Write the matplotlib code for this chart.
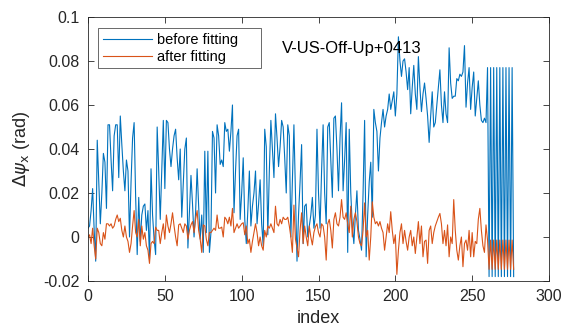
import numpy as np
import matplotlib
matplotlib.use("Agg")
import matplotlib.pyplot as plt

plt.rcParams['font.family'] = ['Liberation Sans', 'DejaVu Sans']
plt.rcParams['mathtext.fontset'] = 'dejavusans'

# Attitude residual Delta psi_x (rad) per sample index, before and after the fit
before = [
    0.004, 0.005, 0.012, 0.022, 0.003, -0.011, 0.044, 0.025, 0.006, 0.020,
    0.038, 0.034, 0.013, 0.051, 0.051, 0.035, 0.021, 0.046, 0.051, 0.051,
    0.027, 0.055, 0.042, 0.030, 0.021, 0.035, 0.030, 0.000, 0.025, 0.045,
    0.052, 0.018, -0.008, 0.018, -0.002, 0.010, 0.014, 0.015, 0.003, 0.012,
    -0.010, 0.031, 0.010, -0.001, -0.008, 0.050, 0.030, 0.008, 0.031, 0.053,
    0.022, 0.053, 0.052, 0.040, 0.032, 0.040, 0.046, 0.049, 0.036, 0.026,
    0.040, 0.009, 0.025, 0.040, 0.045, -0.005, 0.012, 0.028, 0.015, 0.000,
    0.011, 0.031, 0.014, -0.001, 0.010, -0.007, 0.039, 0.002, 0.039, -0.007,
    0.002, 0.048, 0.045, 0.020, 0.051, 0.046, 0.033, 0.035, 0.032, 0.052,
    0.048, 0.049, 0.039, 0.048, 0.060, 0.011, 0.030, 0.046, 0.049, 0.008,
    0.020, 0.036, 0.008, -0.003, 0.012, 0.030, 0.005, 0.014, 0.020, 0.030,
    0.006, 0.015, 0.026, 0.006, -0.004, 0.049, 0.041, 0.001, 0.030, 0.053,
    0.040, 0.027, 0.056, 0.045, 0.032, 0.041, 0.053, 0.050, 0.036, 0.020,
    0.051, 0.046, 0.000, 0.025, 0.051, 0.020, -0.011, 0.010, 0.025, 0.042,
    -0.003, 0.014, 0.015, 0.000, 0.005, 0.010, 0.018, 0.004, 0.010, 0.049,
    0.020, 0.004, 0.030, 0.051, 0.020, 0.006, 0.050, 0.052, 0.035, 0.018,
    0.054, 0.055, 0.040, 0.021, 0.045, 0.061, 0.021, 0.035, 0.052, -0.007,
    0.049, 0.020, 0.005, -0.003, 0.010, 0.021, 0.003, -0.001, -0.006, 0.020,
    0.053, -0.009, 0.010, 0.025, 0.034, 0.009, 0.058, 0.052, 0.048, 0.030,
    0.045, 0.052, 0.058, 0.050, 0.055, 0.058, 0.065, 0.058, 0.062, 0.066,
    0.055, 0.065, 0.091, 0.080, 0.073, 0.080, 0.081, 0.075, 0.067, 0.077,
    0.056, 0.068, 0.078, 0.065, 0.058, 0.082, 0.068, 0.057, 0.065, 0.070,
    0.063, 0.055, 0.043, 0.055, 0.066, 0.050, 0.052, 0.060, 0.068, 0.076,
    0.060, 0.052, 0.066, 0.056, 0.052, 0.086, 0.070, 0.063, 0.064, 0.064,
    0.072, 0.071, 0.074, 0.073, 0.075, 0.087, 0.059, 0.070, 0.077, 0.058,
    0.068, 0.075, 0.055, 0.063, 0.071, 0.060, 0.053, 0.052, 0.054, 0.052,
    0.077, -0.018, 0.077, -0.018, 0.077, -0.018, 0.077, -0.018, 0.077, -0.018,
    0.077, -0.018, 0.077, -0.018, 0.077, -0.018, 0.077, -0.018,
]

after = [
    0.000, 0.001, -0.003, 0.004, -0.004, -0.010, 0.004, 0.002, -0.003, -0.004,
    0.002, -0.001, 0.006, 0.006, 0.005, 0.006, 0.004, 0.005, 0.008, 0.010,
    0.007, 0.0085, 0.003, 0.000, 0.005, 0.000, -0.002, -0.007, -0.003, 0.005,
    0.012, 0.002, 0.000, 0.008, -0.004, 0.005, -0.001, 0.002, -0.004, -0.006,
    -0.012, -0.003, -0.002, -0.003, 0.0045, 0.003, 0.003, -0.003, 0.002, 0.006,
    -0.001, 0.010, 0.005, 0.002, 0.006, 0.011, 0.005, 0.000, -0.004, 0.0055,
    0.006, 0.004, 0.002, 0.006, 0.005, -0.001, 0.003, 0.0055, 0.007, 0.002,
    0.008, 0.012, 0.003, -0.001, -0.007, 0.0055, 0.005, -0.001, -0.004, 0.002,
    0.002, 0.003, 0.004, 0.003, 0.010, 0.004, 0.004, 0.0045, 0.000, 0.009,
    0.008, 0.006, 0.009, 0.005, 0.013, 0.002, 0.004, 0.006, 0.004, 0.005,
    0.006, 0.0065, 0.001, 0.005, -0.003, -0.001, -0.007, -0.002, 0.002, 0.006,
    0.002, -0.004, 0.000, -0.004, -0.006, 0.003, 0.000, 0.005, 0.004, 0.006,
    0.004, 0.002, 0.014, 0.006, 0.005, 0.008, 0.006, 0.009, 0.008, 0.008,
    0.009, 0.005, 0.000, -0.007, 0.0145, -0.001, -0.005, -0.009, 0.003, 0.011,
    -0.003, 0.005, 0.000, -0.004, 0.005, 0.000, -0.0036, 0.002, 0.0047, 0.006,
    0.002, 0.000, 0.006, 0.005, 0.000, -0.0105, 0.006, 0.008, 0.003, -0.005,
    0.008, 0.011, 0.006, 0.005, 0.009, 0.017, 0.009, 0.008, 0.011, 0.006,
    0.002, 0.014, 0.000, 0.008, 0.011, 0.007, 0.000, -0.003, -0.004, 0.003,
    0.0155, 0.000, 0.003, -0.0105, 0.000, 0.016, 0.009, 0.006, 0.007, 0.005,
    0.007, 0.004, 0.002, -0.006, 0.000, 0.006, 0.002, 0.0115, 0.003, -0.003,
    0.001, -0.017, -0.006, 0.002, 0.006, -0.003, 0.003, -0.002, -0.006, 0.000,
    0.003, -0.004, 0.000, -0.0075, 0.000, 0.007, -0.003, 0.005, -0.009, -0.002,
    -0.0014, -0.012, 0.003, 0.005, -0.003, 0.002, 0.005, 0.007, 0.009, 0.0107,
    0.006, -0.003, 0.003, -0.004, 0.0055, -0.009, 0.000, -0.003, 0.017, 0.003,
    -0.006, -0.0105, -0.004, 0.000, -0.0135, -0.003, -0.0014, -0.006, 0.003, -0.009,
    0.002, -0.009, -0.002, -0.003, 0.008, 0.013, 0.003, -0.004, -0.007, 0.0055,
    -0.0014, -0.0147, -0.0014, -0.0147, -0.0014, -0.0147, -0.0014, -0.0147, -0.0014, -0.0147,
    -0.0014, -0.0147, -0.0014, -0.0147, -0.0014, -0.0147, -0.0014, -0.0147,
]

index = np.arange(len(before))

xticks = [0, 50, 100, 150, 200, 250, 300]
yticks = [-0.02, 0, 0.02, 0.04, 0.06, 0.08, 0.1]
yticklabels = ['-0.02', '0', '0.02', '0.04', '0.06', '0.08', '0.1']

fig = plt.figure(figsize=(5.61, 3.27), dpi=100)
ax = fig.add_axes([0.1569, 0.1407, 0.8217, 0.8073])

ax.plot(index, before, color='#0072BD', lw=0.8, label='before fitting')
ax.plot(index, after, color='#D95319', lw=0.8, label='after fitting')

ax.set_xlim(0, 300)
ax.set_ylim(-0.02, 0.1)
ax.set_xticks(xticks)
ax.set_yticks(yticks)
ax.set_yticklabels(yticklabels)

axcol = '#262626'
ax.tick_params(direction='in', top=True, right=True, length=4, width=0.6,
               labelsize=11.5, colors=axcol, pad=6)
for s in ax.spines.values():
    s.set_linewidth(0.6)
    s.set_color(axcol)

ax.set_xlabel('index', fontsize=13, color=axcol, labelpad=4)
ax.set_ylabel(r'$\Delta\psi_{\mathrm{x}}$ (rad)', fontsize=13, color=axcol, labelpad=8)

# legend frame stretched to a fixed box, entries stay left aligned
leg = ax.legend(loc='upper left', bbox_to_anchor=(0.0223, 0.806, 0.352, 0.151),
                mode='expand', fontsize=10.5, frameon=True, fancybox=False,
                edgecolor=axcol, handlelength=3.4, handletextpad=0.35,
                borderpad=0.3, labelspacing=0.2, borderaxespad=0)
leg.get_frame().set_linewidth(0.6)

ax.text(0.42, 0.881, 'V-US-Off-Up+0413', transform=ax.transAxes,
        fontsize=12, color='black', va='center', ha='left')

fig.savefig('out.png', dpi=100)
